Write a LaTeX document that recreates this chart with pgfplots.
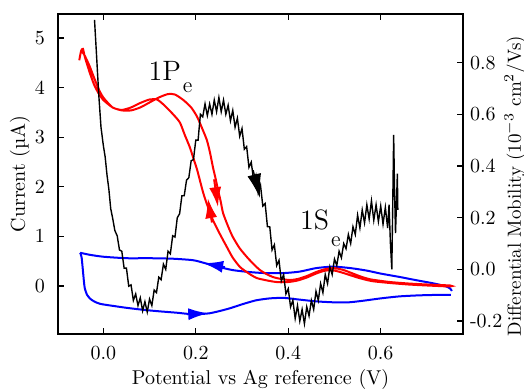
\documentclass[border=0pt]{standalone}
\usepackage{pgfplots}
\pgfplotsset{compat=1.18}
\usetikzlibrary{arrows.meta}
\begin{document}
\begin{tikzpicture}
\pgfplotsset{
  common/.style={scale only axis, width=202.5pt, height=160pt,
    xmin=-0.098, xmax=0.778, tick align=inside, major tick length=3pt,
    axis line style={line width=0.8pt},
    every tick/.style={black, line width=0.6pt}},
}
\begin{axis}[common,
  ymin=-0.968, ymax=5.484,
  ytick={0,1,2,3,4,5}, xtick={0,0.2,0.4,0.6},
  ytick pos=left,
  xticklabel style={/pgf/number format/fixed, /pgf/number format/fixed zerofill, /pgf/number format/precision=1, yshift=-3pt},
  yticklabel style={xshift=-3pt},
  xlabel={Potential vs Ag reference (V)},
  ylabel={Current (µA)},
  x label style={at={(axis description cs:0.5,-0.159)}, anchor=base},
  y label style={at={(axis description cs:-0.0815,0.5)}, anchor=base},
]
% blue CV: lower branch (left to right)
\addplot[blue, line width=1pt, smooth, tension=0.4] coordinates {
(-0.050,0.67) (-0.047,0.58) (-0.045,0.40) (-0.042,0.10) (-0.040,-0.05) (-0.035,-0.18)
(-0.028,-0.26) (-0.020,-0.31) (-0.007,-0.36) (0.02,-0.40) (0.05,-0.44) (0.086,-0.48)
(0.12,-0.51) (0.16,-0.54) (0.194,-0.57) (0.23,-0.55) (0.27,-0.46) (0.30,-0.37)
(0.33,-0.29) (0.36,-0.25) (0.39,-0.24) (0.42,-0.27) (0.46,-0.31) (0.50,-0.33)
(0.53,-0.33) (0.56,-0.30) (0.60,-0.25) (0.64,-0.21) (0.68,-0.19) (0.72,-0.18)
(0.752,-0.18)
};
% blue CV: upper branch (right to left)
\addplot[blue, line width=1pt, smooth, tension=0.4] coordinates {
(0.754,-0.10) (0.750,-0.05) (0.742,-0.01) (0.73,0.02) (0.71,0.06)
(0.675,0.12) (0.642,0.18) (0.60,0.25) (0.57,0.31) (0.535,0.36) (0.497,0.39)
(0.46,0.36) (0.425,0.29) (0.39,0.26) (0.35,0.26) (0.317,0.28) (0.28,0.32)
(0.252,0.38) (0.22,0.46) (0.194,0.52) (0.15,0.55) (0.10,0.56) (0.05,0.56)
(0.00,0.59) (-0.03,0.63) (-0.050,0.67)
};
\addplot[blue, line width=1pt, -{Latex[length=10pt,width=6pt]}] coordinates {(0.263,0.38) (0.216,0.46)};
\addplot[blue, line width=1pt, -{Latex[length=10pt,width=6pt]}] coordinates {(0.181,-0.57) (0.227,-0.55)};
% red CV loop
\addplot[red, line width=1pt, smooth, tension=0.4] coordinates {
(-0.052,4.55) (-0.048,4.74) (-0.044,4.78) (-0.04,4.62) (-0.03,4.32) (-0.02,4.06)
(-0.01,3.88) (0.0,3.75) (0.02,3.6) (0.04,3.54) (0.06,3.54) (0.08,3.6) (0.10,3.7)
(0.12,3.8) (0.14,3.87) (0.155,3.86) (0.173,3.75) (0.19,3.6) (0.203,3.41) (0.215,3.15)
(0.224,2.94) (0.231,2.68) (0.237,2.40) (0.243,2.16) (0.248,1.94) (0.254,1.70)
(0.259,1.47) (0.270,1.2) (0.280,0.99) (0.295,0.76) (0.311,0.58) (0.325,0.44)
(0.339,0.32) (0.353,0.24) (0.367,0.18) (0.385,0.14) (0.404,0.12) (0.42,0.14)
(0.44,0.2) (0.46,0.28) (0.48,0.34) (0.50,0.36) (0.52,0.32) (0.54,0.25) (0.56,0.18)
(0.58,0.13) (0.62,0.08) (0.66,0.05) (0.70,0.03) (0.75,0.01)
(0.75,-0.01) (0.70,0.01) (0.66,0.03) (0.62,0.06) (0.58,0.1) (0.55,0.17) (0.52,0.26)
(0.50,0.31) (0.48,0.31) (0.46,0.25) (0.44,0.17) (0.42,0.11) (0.40,0.08) (0.375,0.08)
(0.355,0.11) (0.332,0.16) (0.315,0.25) (0.296,0.38) (0.28,0.57) (0.267,0.79)
(0.252,1.05) (0.237,1.33) (0.226,1.6) (0.216,1.88) (0.203,2.34) (0.195,2.57)
(0.187,2.80) (0.176,3.05) (0.166,3.29) (0.155,3.42) (0.144,3.53) (0.13,3.66)
(0.116,3.76) (0.10,3.76) (0.08,3.69) (0.06,3.6) (0.04,3.55) (0.02,3.6) (0.0,3.8)
(-0.01,3.97) (-0.02,4.2) (-0.03,4.44) (-0.04,4.64) (-0.048,4.76)
};
\addplot[red, line width=1pt, -{Latex[length=10pt,width=6pt]}] coordinates {(0.2397,2.15) (0.248,1.59)};
\addplot[red, line width=1pt, -{Latex[length=10pt,width=6pt]}] coordinates {(0.235,1.28) (0.226,1.77)};
\node[anchor=base west, inner sep=0pt, font=\fontsize{14}{16}\selectfont] at (axis cs:0.097,4.15) {1P\hspace{1pt}\raisebox{-6pt}{\fontsize{11}{13}\selectfont e}};
\node[anchor=base west, inner sep=0pt, font=\fontsize{14}{16}\selectfont] at (axis cs:0.425,1.13) {1S\hspace{1pt}\raisebox{-8.5pt}{\fontsize{11}{13}\selectfont e}};
\end{axis}
\begin{axis}[common,
  ymin=-0.25, ymax=0.988,
  xtick=\empty, ytick={-0.2,0,0.2,0.4,0.6,0.8},
  yticklabels={-0.2,0.0,0.2,0.4,0.6,0.8},
  ytick pos=right, yticklabel pos=right,
  ylabel={Differential Mobility (10$^{-3}$ cm$^2$/Vs)},
  y label style={at={(axis description cs:1.143,0.4625)}, anchor=base, font=\fontsize{9.5}{11}\selectfont},
]
\addplot[black, line width=0.7pt] coordinates {
(-0.019,0.965) (-0.015,0.84) (-0.010,0.68) (-0.005,0.55) (0.000,0.48) (0.004,0.435)
(0.008,0.365) (0.012,0.31) (0.016,0.235) (0.020,0.20) (0.025,0.15) (0.030,0.13)
(0.035,0.075) (0.040,0.07) (0.045,0.005) (0.050,0.005) (0.055,-0.065) (0.060,-0.06)
(0.065,-0.12) (0.070,-0.095) (0.075,-0.14) (0.080,-0.11) (0.085,-0.16) (0.090,-0.125)
(0.095,-0.165) (0.100,-0.115) (0.105,-0.14) (0.110,-0.08) (0.115,-0.09) (0.120,-0.03)
(0.125,-0.04) (0.130,0.02) (0.135,0.00) (0.140,0.07) (0.145,0.06) (0.150,0.13)
(0.155,0.125) (0.160,0.20) (0.165,0.215) (0.170,0.285) (0.175,0.285) (0.180,0.345)
(0.185,0.355) (0.190,0.42) (0.195,0.425) (0.200,0.50) (0.205,0.50) (0.210,0.60)
(0.215,0.59) (0.220,0.64) (0.225,0.595) (0.230,0.64) (0.235,0.60) (0.240,0.655)
(0.245,0.61) (0.250,0.665) (0.255,0.61) (0.260,0.655) (0.265,0.60) (0.270,0.635)
(0.275,0.575) (0.280,0.615) (0.285,0.55) (0.290,0.585) (0.295,0.515) (0.300,0.545)
(0.305,0.465) (0.310,0.475) (0.315,0.395) (0.320,0.415) (0.325,0.345) (0.330,0.365)
(0.335,0.295) (0.340,0.325) (0.345,0.245) (0.350,0.255) (0.355,0.165) (0.360,0.165)
(0.365,0.075) (0.370,0.095) (0.375,0.015) (0.380,0.035) (0.385,-0.045) (0.390,-0.02)
(0.395,-0.095) (0.400,-0.075) (0.405,-0.145) (0.410,-0.12) (0.415,-0.19) (0.420,-0.14)
(0.425,-0.20) (0.430,-0.155) (0.435,-0.21) (0.440,-0.145) (0.445,-0.18) (0.450,-0.12)
(0.455,-0.155) (0.460,-0.085) (0.465,-0.12) (0.470,-0.055) (0.475,-0.09) (0.480,-0.02)
(0.485,-0.055) (0.490,0.01) (0.495,-0.02) (0.500,0.04) (0.505,0.015) (0.510,0.07)
(0.515,0.045) (0.520,0.10) (0.525,0.08) (0.530,0.135) (0.535,0.10) (0.540,0.165)
(0.545,0.135) (0.550,0.21) (0.555,0.16) (0.560,0.23) (0.565,0.18) (0.570,0.25)
(0.575,0.195) (0.580,0.265) (0.585,0.19) (0.590,0.25) (0.595,0.185) (0.600,0.245)
(0.605,0.175) (0.610,0.24) (0.615,0.16) (0.618,0.25) (0.621,0.10) (0.624,0.00)
(0.626,0.25) (0.628,0.52) (0.630,0.30) (0.632,0.14) (0.634,0.25) (0.636,0.37) (0.637,0.23)
};
\addplot[black, line width=0.7pt, -{Latex[length=12pt,width=7pt]}] coordinates {(0.324,0.384) (0.339,0.276)};
\end{axis}
\pgfresetboundingbox
\useasboundingbox (-29pt,-27.5pt) rectangle (233pt,167pt);
\end{tikzpicture}
\end{document}
